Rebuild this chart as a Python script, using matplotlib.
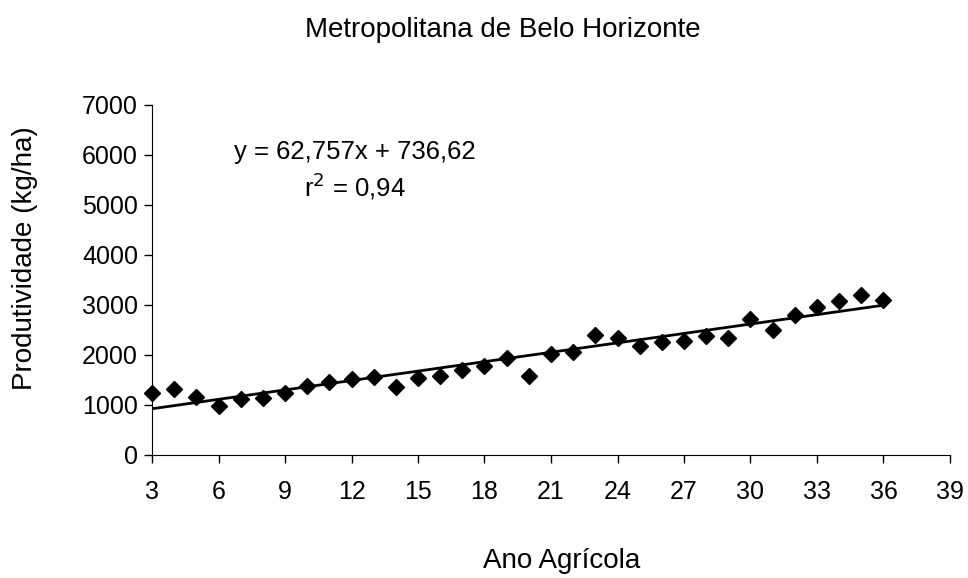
import matplotlib.pyplot as plt
import numpy as np

plt.rcParams['font.family'] = ['Liberation Sans', 'DejaVu Sans']

# ano agricola e produtividade (kg/ha)
anos = list(range(3, 37))
produtividade = [1240, 1320, 1160, 980, 1120, 1140, 1240, 1380, 1460, 1520,
                 1560, 1360, 1540, 1580, 1700, 1780, 1950, 1590, 2030, 2070,
                 2400, 2350, 2180, 2270, 2280, 2380, 2350, 2730, 2510, 2800,
                 2970, 3080, 3200, 3110]

slope = 62.757
intercept = 736.62
x_ticks = list(range(3, 40, 3))
y_ticks = list(range(0, 7001, 1000))


def main():
    fig = plt.figure(figsize=(9.68, 5.78), dpi=100)
    ax = fig.add_axes([152 / 968, 1 - 455 / 578, (950 - 152) / 968, (455 - 105) / 578])

    xs = np.array([anos[0], anos[-1]])
    ax.plot(xs, slope * xs + intercept, color='black', lw=2, zorder=2)
    ax.plot(anos, produtividade, linestyle='none', marker='D', markersize=8.5,
            color='black', zorder=3, clip_on=False)

    ax.set_xlim(3, 39)
    ax.set_ylim(0, 7000)
    ax.set_xticks(x_ticks)
    ax.set_yticks(y_ticks)
    ax.tick_params(labelsize=18, length=6, width=1)
    ax.tick_params(axis='x', pad=12)
    ax.tick_params(axis='y', pad=4)
    for s in ['top', 'right']:
        ax.spines[s].set_visible(False)

    ax.text(355 / 968, 1 - 152 / 578, "y = 62,757x + 736,62", transform=fig.transFigure,
            ha='center', va='center', fontsize=18.5)
    ax.text(355 / 968, 1 - 186 / 578, "r$^2$ = 0,94", transform=fig.transFigure,
            ha='center', va='center', fontsize=18.5)

    fig.text(503 / 968, 1 - 30 / 578, "Metropolitana de Belo Horizonte",
             ha='center', va='center', fontsize=20)
    fig.text(562 / 968, 1 - 561 / 578, "Ano Agrícola", ha='center', va='center', fontsize=20)
    fig.text(25 / 968, 1 - 258 / 578, "Produtividade (kg/ha)", ha='center', va='center',
             rotation=90, fontsize=20)

    fig.savefig("out.png", dpi=100)
    return fig


if __name__ == "__main__":
    main()
